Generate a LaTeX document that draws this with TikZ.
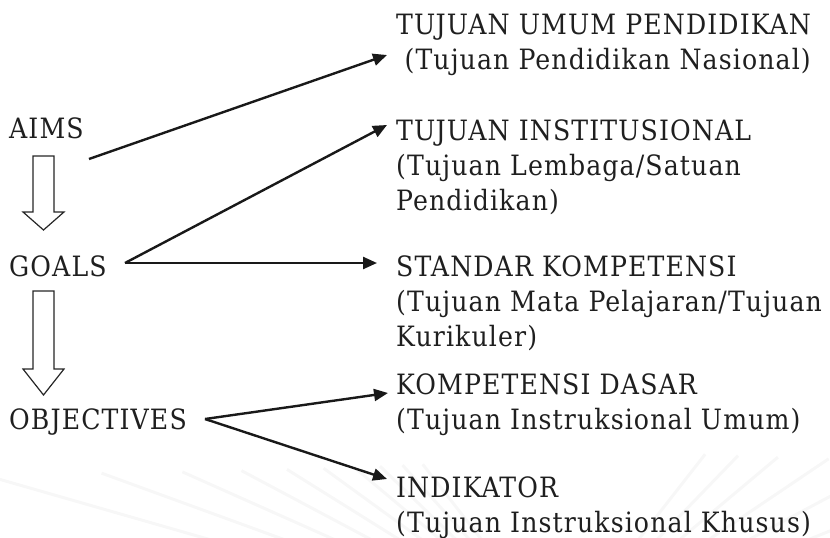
\documentclass[tikz,border=0pt]{standalone}
\usepackage{fontspec}
\setmainfont[LetterSpace=4]{DejaVu Serif Condensed}
\usetikzlibrary{arrows.meta}

\begin{document}
\begin{tikzpicture}[x=1pt, y=-1pt,
  lbl/.style={anchor=base west, inner sep=0pt, align=left, text=black!88,
    font=\fontsize{28}{35}\selectfont},
  link/.style={draw=black!90, line width=2.4pt, -{Triangle[length=14pt, width=12pt]}},
  hollow/.style={draw=black!85, line width=1.2pt, fill=white, line join=miter}]
\def\colL{9}
\def\colR{396}
\def\lead{\hspace*{0.3em}}

\useasboundingbox (0,0) rectangle (830,538);

\foreach \a in {196,200,...,232}
  \draw[black!3, line width=3pt] (560,640) -- +(\a:{160/sin(\a-180)+20});
\foreach \a in {308,314,...,344}
  \draw[black!3, line width=3pt] (560,640) -- +(\a:{170/sin(360-\a)+20});

\node[lbl] (aims) at (\colL,138) {AIMS};
\node[lbl] (goals) at (\colL,276) {GOALS};
\node[lbl] (objectives) at (\colL,429) {OBJECTIVES};

\node[lbl] (umum) at (\colR,69) {TUJUAN UMUM PENDIDIKAN\\\lead(Tujuan Pendidikan Nasional)};
\node[lbl] (institusi) at (\colR,210) {TUJUAN INSTITUSIONAL\\(Tujuan Lembaga/Satuan\\Pendidikan)};
\node[lbl] (standar) at (\colR,346) {STANDAR KOMPETENSI\\(Tujuan Mata Pelajaran/Tujuan\\Kurikuler)};
\node[lbl] (kd) at (\colR,429) {KOMPETENSI DASAR\\(Tujuan Instruksional Umum)};
\node[lbl] (indikator) at (\colR,532) {INDIKATOR\\(Tujuan Instruksional Khusus)};

\foreach \top/\neck/\tip in {156/212/230, 291/369/395}
  \draw[hollow] (33,\top) -- (54,\top) -- (54,\neck) -- (64,\neck)
    -- (43.5,\tip) -- (23,\neck) -- (33,\neck) -- cycle;

\coordinate (AimsOut) at (89,159);
\coordinate (GoalsOut) at (125,263);
\coordinate (ObjOut) at (205,419);
\coordinate (UmumIn) at (387,55);
\coordinate (InstIn) at (387,125);
\coordinate (StdIn) at (377,263);
\coordinate (KdIn) at (388,393);
\coordinate (IndIn) at (387,479);

\draw[link] (AimsOut) -- (UmumIn);
\draw[link] (GoalsOut) -- (InstIn);
\draw[link] (GoalsOut) -- (StdIn);
\draw[link] (ObjOut) -- (KdIn);
\draw[link] (ObjOut) -- (IndIn);

\end{tikzpicture}
\end{document}
